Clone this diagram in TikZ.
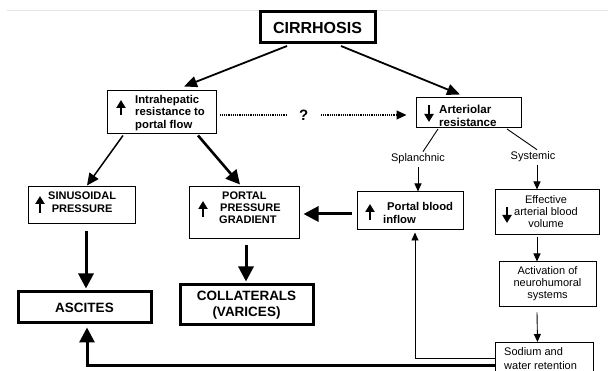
\documentclass[tikz,border=0pt]{standalone}
\usepackage{fontspec}
\setmainfont{Liberation Sans}
\usetikzlibrary{arrows.meta,calc}
\begin{document}
\begin{tikzpicture}[x=1pt,y=-1pt,
  thinbox/.style={draw, line width=1pt, inner sep=0pt},
  thickbox/.style={draw, line width=3pt, inner sep=0pt, font=\bfseries\fontsize{13.5}{16.5}\selectfont, align=center},
  blbl/.style={inner sep=0pt, font=\bfseries\fontsize{11.3}{12.3}\selectfont},
  rlbl/.style={inner sep=0pt, font=\fontsize{11}{12}\selectfont, align=center},
  thinarr/.style={line width=0.9pt, -{Triangle[length=8pt,width=7pt]}},
  medarr/.style={line width=1.8pt, -{Triangle[length=13pt,width=11pt]}},
  bigarr/.style={line width=3pt, -{Triangle[length=15pt,width=15pt]}},
  icon/.style={line width=2.4pt, -{Triangle[length=8pt,width=9pt]}}
]
\useasboundingbox (0,0) rectangle (608,371);
\draw[gray!20, line width=0.8pt] (7,10) -- (608,10);

% boxes
\node[thickbox, minimum width=115, minimum height=31, font=\bfseries\fontsize{16}{18}\selectfont] (cir) at (317.5,27.5) {CIRRHOSIS};
\node[thinbox, minimum width=109, minimum height=43] (intra) at (161.5,112.5) {};
\node[blbl, anchor=west, align=left] at (135,113) {Intrahepatic\\resistance to\\portal flow};
\draw[icon] (121,115) -- (121,100);

\node[thinbox, minimum width=105, minimum height=30] (art) at (468.5,113) {};
\node[blbl, anchor=west, align=left, font=\bfseries\fontsize{11.6}{12.8}\selectfont] at (439,115.5) {Arteriolar\\resistance};
\draw[icon] (429,105) -- (429,122);

\node[thinbox, minimum width=107, minimum height=37] (sinus) at (81.5,205.5) {};
\node[blbl, anchor=west, align=center, font=\bfseries\fontsize{11}{13}\selectfont] at (48,202.5) {SINUSOIDAL\\PRESSURE};
\draw[icon] (40,213) -- (40,196);

\node[thinbox, minimum width=110, minimum height=52] (ppg) at (244,213) {};
\node[blbl, anchor=west, align=left, font=\bfseries\fontsize{11}{12}\selectfont] at (219,208) {\hspace{3pt}PORTAL\\\hspace{1pt}PRESSURE\\GRADIENT};
\draw[icon] (203,217) -- (203,201);

\node[thinbox, minimum width=106, minimum height=38] (pbi) at (410,211) {};
\node[blbl, anchor=west, align=left, font=\bfseries\fontsize{11.3}{13}\selectfont] at (383,212.5) {\hspace{4pt}Portal blood\\inflow};
\draw[icon] (370,220) -- (370,204);

\node[thinbox, minimum width=104, minimum height=45] (eff) at (547,212.5) {};
\node[rlbl] at (546,212) {Effective\\arterial blood\\volume};
\draw[icon] (507,207) -- (507,223);

\node[thinbox, minimum width=97, minimum height=45] (act) at (547.5,284.5) {};
\node[rlbl] at (547.5,284) {Activation of\\neurohumoral\\systems};

\node[thinbox, minimum width=98, minimum height=43, anchor=north west] (sod) at (495,342) {};
\node[rlbl, anchor=west, align=left, font=\fontsize{11}{14}\selectfont] at (504,359) {Sodium and\\water retention};

\node[thickbox, minimum width=133, minimum height=31] (asc) at (84.5,307.5) {ASCITES};
\node[thickbox, minimum width=133, minimum height=40] (col) at (246.5,305) {COLLATERALS\\(VARICES)};

\node[rlbl] (spl) at (418,159) {Splanchnic};
\node[rlbl] (sys) at (533,157) {Systemic};

% connectors
\draw[medarr] ($(cir.south)+(-30.5,1.5)$) -- ($(intra.north)+(22.5,-4)$);
\draw[medarr] ($(cir.south)+(23.5,1.5)$) -- ($(art.north)+(-8.5,-3)$);
\draw[line width=1.2pt, dash pattern=on 1.2pt off 1pt, -{Triangle[length=10pt,width=9pt]}]
  ($(intra.east)+(3,2.5)$) -- node[pos=0.45, fill=white, inner xsep=12pt, font=\bfseries\fontsize{15}{15}\selectfont] {?} ($(art.west)+(-9,2)$);
\draw[line width=1.5pt, -{Triangle[length=12pt,width=11pt]}] ($(intra.south)+(-38.5,1)$) -- ($(sinus.north)+(5.5,-1)$);
\draw[line width=2.6pt, -{Triangle[length=14pt,width=14pt]}] ($(intra.south)+(36.5,1)$) -- ($(ppg.north)+(-4,-2)$);
\draw[line width=0.9pt] ($(art.south)+(-30.5,0.5)$) -- ($(spl.north)+(5,-2)$);
\draw[line width=0.9pt] ($(art.south)+(38.5,0.5)$) -- ($(sys.north)+(4,-2)$);
\draw[thinarr] ($(spl.south)+(0,3)$) -- (spl.south |- pbi.north);
\draw[thinarr] ($(sys.south)+(4,3)$) -- ($(eff.north)+(-10,0)$);
\draw[thinarr] ($(eff.south)+(-10,2)$) -- ($(act.north)+(-10.5,0)$);
\draw[thinarr] ($(act.south)+(-10.5,5)$) -- ($(sod.north)+(-7,0)$);
\draw[bigarr] ($(pbi.west)+(-5,3)$) -- ($(ppg.east)+(4,1)$);
\draw[bigarr] ($(sinus.south)+(4.5,7)$) -- ($(asc.north)+(1.5,-2)$);
\draw[bigarr] ($(ppg.south)+(2,6)$) -- ($(col.north)+(-0.5,-2)$);
\draw[bigarr] ($(sod.north west)+(0,24)$) -| ($(asc.south)+(2.5,3)$);
\draw[thinarr] ($(sod.north west)+(0,16)$) -| ($(pbi.south)+(5,2)$);
\end{tikzpicture}
\end{document}
